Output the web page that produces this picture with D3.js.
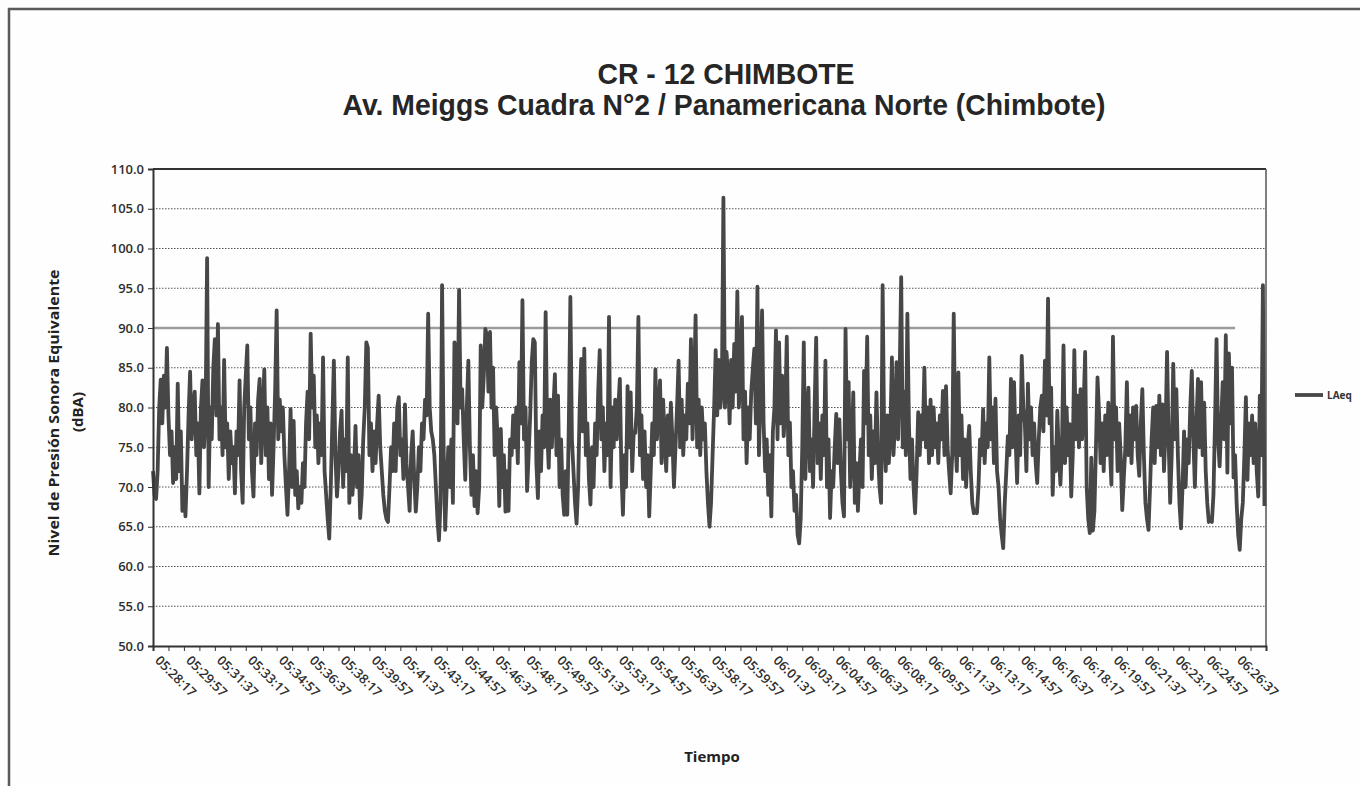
<!DOCTYPE html>
<html lang="es">
<head>
<meta charset="UTF-8">
<title>CR - 12 CHIMBOTE</title>
<style>
  body { margin: 0; background: #fdfdfd; }
  svg { display: block; }
  .tick text { font-family: "Open Sans", sans-serif; font-weight: 600; fill: #2e2e2e; }
  .grid line { stroke: #555; stroke-width: 1; stroke-dasharray: 1.5 1.5; }
  .lineLAeq { fill: none; stroke: #474747; stroke-width: 3.8px; stroke-linejoin: round; }
</style>
</head>
<body>
<script src="https://d3js.org/d3.v7.min.js"></script>
<script>
// series: LAeq sampled every 5 s, starting at 05:28:17 (one row per minute)
const stepSeconds = 5;
const laeq = [
  72, 69, 68.5, 72, 80, 83.5, 78, 84, 80, 87.5, 79, 74,
  77, 70.5, 75, 71, 83, 72, 77, 67, 70, 66.3, 72, 79,
  84.5, 76, 80, 82, 74, 78, 69.2, 80, 83.4, 75, 79, 98.8,
  70, 80, 76, 85, 88.6, 79, 90.5, 76, 80, 74, 86, 75,
  78, 71, 77, 73, 75, 69.2, 77, 74, 83.4, 72, 68, 80,
  84, 87.8, 76, 80, 72, 68.8, 78, 74, 81, 83.6, 73, 79,
  84.8, 74, 80, 71, 78, 69, 75, 82, 92.2, 76, 81, 77,
  80, 74, 70, 66.5, 72, 79.8, 70, 78.3, 69, 72, 67.3, 70,
  68, 73, 70, 78, 82, 76, 89.3, 80, 84, 75, 79, 73,
  78, 74, 86.3, 72, 69, 66, 63.5, 70, 78, 85.9, 74, 68.8,
  72, 77, 79.6, 70, 76, 72, 86.3, 68, 74, 69, 72, 77.7,
  70, 74, 66.1, 69, 76, 80, 88.2, 87.5, 74, 78, 72, 77,
  73, 78, 81.5, 75, 72, 69, 67, 66, 65.6, 70, 75, 72,
  78, 72, 80, 81.3, 74, 76, 71, 80.4, 73, 70, 67, 74,
  77, 71, 66.9, 70, 75, 72, 78, 76, 81, 79, 91.8, 80,
  77, 76, 74, 70, 66, 63.3, 68, 95.4, 75, 64.6, 70, 75,
  70, 76, 68, 88.2, 87.4, 78, 94.8, 80, 82.3, 76, 70.9, 80,
  85.9, 75, 69, 74, 67.6, 72, 66.7, 70, 87.8, 80, 84, 89.9,
  89, 82, 89.5, 80, 85, 74, 80, 76, 67.6, 77.3, 70, 74,
  66.9, 72, 67, 76, 74, 79, 75, 80, 73, 85.7, 78, 93.5,
  76, 80, 69.5, 74, 79, 85.7, 88.6, 88.2, 73, 68.6, 77, 72,
  79, 75, 92, 77, 72.4, 81, 75, 80, 84.2, 74, 81.5, 70,
  76, 69, 66.5, 72, 66.5, 78, 93.9, 76, 72, 68, 65.4, 70,
  80, 86.1, 77, 87.4, 74, 78, 71, 67.8, 75, 70, 78, 74,
  82, 87.2, 76, 80, 72, 78, 74, 91.4, 70, 80, 75, 81,
  76, 80, 83.6, 72, 66.5, 74, 70, 82.7, 75, 81.9, 72, 77,
  76.8, 80, 91.4, 74, 79, 71, 77, 70, 74, 66.3, 72, 78,
  74, 84.8, 76, 80, 83.4, 73, 81, 76, 72, 79, 74, 80.6,
  76, 70, 75, 80, 85.9, 75, 81, 74, 79, 76, 83, 78,
  88.6, 76, 82, 91.6, 75, 81, 74, 80, 76, 78, 72, 68,
  65, 68, 74, 80, 87.2, 79, 86, 80, 82, 106.4, 80, 87,
  84, 78, 86, 80, 88, 82, 94.6, 80, 84, 91.4, 76, 82,
  73, 80, 76, 82, 84.8, 87.4, 78, 95.2, 74, 82, 92.2, 78,
  72, 76, 69, 74, 66.3, 77, 80, 89.7, 76, 88.2, 78, 84,
  76.4, 80, 88.9, 74, 78.1, 70, 72, 67, 69, 64, 62.9, 66,
  75, 88.2, 71, 78, 82.5, 72, 76, 70, 80, 88.8, 73, 78,
  71, 79, 74, 85.9, 70, 76, 66.1, 72, 70, 75, 79.2, 73,
  78.5, 72, 68, 66.3, 89.9, 76, 83.2, 70, 74, 81.9, 68, 73,
  67, 72, 76, 70, 84.6, 78, 88.9, 74, 79, 71, 77, 73,
  81.9, 74, 70, 68, 95.4, 76, 72, 79, 73, 77, 86.3, 74,
  78, 85.7, 76, 84, 96.4, 75, 82, 74, 91.8, 78, 71, 76,
  70, 66.7, 72, 79.4, 74, 79, 76, 85, 75, 80, 73, 81,
  74, 80, 75, 78, 73, 79, 76, 82.1, 74, 82.7, 75, 72,
  69.2, 74, 91.8, 76, 72, 84.4, 74, 79, 71, 76, 70, 75,
  77.7, 72, 68, 66.7, 67, 66.7, 70, 76, 74, 79.8, 73, 78,
  75, 86.3, 76, 80, 73, 81.1, 72, 70, 66, 64, 62.3, 68,
  72, 76.4, 74, 83.6, 75, 83.2, 76, 70.5, 79, 74, 86.5, 80,
  78, 72, 83, 76, 80, 74, 78, 73, 70.5, 76, 80, 81.5,
  77, 85.9, 79, 93.7, 78, 82.5, 69, 75, 72, 79.6, 74, 70.3,
  75, 87.8, 73, 80, 74, 77.9, 68.8, 74, 87.2, 76, 81.5, 75,
  82.3, 76, 80, 87, 70, 66, 64.2, 73.7, 64.5, 67, 75, 83.8,
  79.4, 73, 78, 72, 79, 74, 80.6, 75, 70.3, 88.9, 76, 80,
  72, 78, 74, 67.1, 71, 75, 83.2, 74, 79, 73, 80, 76,
  80.2, 74, 71.4, 78, 82.3, 74, 68, 66, 64.6, 70, 76, 80,
  73, 80.2, 75, 81.5, 74, 80.4, 72, 77, 87, 76, 68, 74,
  85.5, 76, 82.3, 74, 68, 64.8, 70, 77, 70, 76, 73, 80,
  84.6, 76, 70, 78, 83.6, 75, 83.2, 74, 80.6, 72, 68, 65.6,
  66, 65.6, 69, 78, 88.6, 76, 72.6, 78, 83.2, 76, 89.1, 71.8,
  86.8, 78, 85, 71.2, 74, 68, 64, 62.1, 66, 68, 74, 81.3,
  70.9, 78, 74, 79, 73, 78, 72, 68.8, 81.5, 74, 95.4, 67.6
];

// category labels shown on the time axis (one every 100 s)
const timeLabels = [
  "05:28:17", "05:29:57", "05:31:37", "05:33:17", "05:34:57", "05:36:37",
  "05:38:17", "05:39:57", "05:41:37", "05:43:17", "05:44:57", "05:46:37",
  "05:48:17", "05:49:57", "05:51:37", "05:53:17", "05:54:57", "05:56:37",
  "05:58:17", "05:59:57", "06:01:37", "06:03:17", "06:04:57", "06:06:37",
  "06:08:17", "06:09:57", "06:11:37", "06:13:17", "06:14:57", "06:16:37",
  "06:18:17", "06:19:57", "06:21:37", "06:23:17", "06:24:57", "06:26:37"
];
const labelEvery = 100;   // seconds between labels
const tickEvery = 50;     // seconds between tick marks
const totalSeconds = 3600;

const yTicks = [50, 55, 60, 65, 70, 75, 80, 85, 90, 95, 100, 105, 110];
const refLevel = 90;      // light solid line in the scan
const refEndSecond = 3500;

const width = 1360, height = 786;
const margin = { top: 169, right: 94, bottom: 140, left: 153 };

const svg = d3.select('body').append('svg')
  .attr('width', width)
  .attr('height', height);

// outer chart frame (scan shows top + left edge)
svg.append('rect')
  .attr('x', 9).attr('y', 9)
  .attr('width', width + 20).attr('height', height + 20)
  .attr('fill', '#fefefe')
  .attr('stroke', '#5a5a5a')
  .attr('stroke-width', 2.5);

const x = d3.scaleLinear()
  .domain([0, totalSeconds])
  .range([margin.left, width - margin.right]);

const y = d3.scaleLinear()
  .domain([50, 110])
  .range([height - margin.bottom, margin.top]);

// titles
const title = svg.append('g')
  .attr('font-family', '"Liberation Sans Narrow", "Liberation Sans", Arial, sans-serif')
  .attr('font-weight', 'bold')
  .attr('font-size', 30)
  .attr('fill', '#262626')
  .attr('text-anchor', 'middle');
title.append('text')
  .attr('x', 726).attr('y', 84)
  .attr('textLength', 257).attr('lengthAdjust', 'spacingAndGlyphs')
  .text('CR - 12 CHIMBOTE');
title.append('text')
  .attr('x', 724).attr('y', 115)
  .attr('textLength', 763).attr('lengthAdjust', 'spacingAndGlyphs')
  .text('Av. Meiggs Cuadra N°2 / Panamericana Norte (Chimbote)');

// grid lines
svg.append('g')
  .attr('class', 'grid')
  .selectAll('line')
  .data(yTicks.filter(d => d > 50 && d < 110 && d !== refLevel))
  .join('line')
  .attr('x1', x(0)).attr('x2', x(totalSeconds))
  .attr('y1', d => y(d)).attr('y2', d => y(d));

svg.append('line')
  .attr('x1', x(0)).attr('x2', x(refEndSecond))
  .attr('y1', y(refLevel)).attr('y2', y(refLevel))
  .attr('stroke', '#9c9c9c')
  .attr('stroke-width', 2.5);

// plot border top / right
svg.append('line')
  .attr('x1', x(0)).attr('x2', x(totalSeconds))
  .attr('y1', y(110)).attr('y2', y(110))
  .attr('stroke', '#333').attr('stroke-width', 2);
svg.append('line')
  .attr('x1', x(totalSeconds)).attr('x2', x(totalSeconds))
  .attr('y1', y(110)).attr('y2', y(50))
  .attr('stroke', '#555').attr('stroke-width', 1.5);

// the series
const valueline = d3.line()
  .x((d, i) => x(i * stepSeconds))
  .y(d => y(d));

svg.append('path')
  .datum(laeq)
  .attr('class', 'lineLAeq')
  .attr('d', valueline);

// y axis
const yAxis = svg.append('g')
  .attr('transform', `translate(${margin.left},0)`)
  .call(d3.axisLeft(y).tickValues(yTicks).tickFormat(d3.format('.1f')).tickSize(5).tickPadding(4));
yAxis.select('.domain').attr('stroke', '#333').attr('stroke-width', 2);
yAxis.selectAll('.tick line').attr('stroke', '#333');
yAxis.selectAll('.tick text').attr('font-size', 13);

// x axis: tick every 50 s, label every 100 s
const xAxis = svg.append('g')
  .attr('transform', `translate(0,${y(50)})`)
  .call(d3.axisBottom(x)
    .tickValues(d3.range(0, totalSeconds + 1, tickEvery))
    .tickSize(5)
    .tickFormat(d => (d % labelEvery === 0 && timeLabels[d / labelEvery]) || ''));
xAxis.select('.domain').attr('stroke', '#333').attr('stroke-width', 2);
xAxis.selectAll('.tick line').attr('stroke', '#333');
xAxis.selectAll('.tick text')
  .attr('font-size', 13)
  .attr('text-anchor', 'start')
  .attr('x', 0).attr('y', 0).attr('dy', '0.35em')
  .attr('transform', 'translate(4,12) rotate(45)');

// axis titles
const axisTitle = (sel) => sel
  .attr('text-anchor', 'middle')
  .attr('font-family', '"Open Sans", sans-serif')
  .attr('font-weight', 'bold')
  .attr('fill', '#222');

svg.append('text')
  .call(axisTitle)
  .attr('transform', 'translate(59,413) rotate(-90)')
  .attr('font-size', 15)
  .attr('textLength', 287).attr('lengthAdjust', 'spacingAndGlyphs')
  .text('Nivel de Presión Sonora Equivalente');
svg.append('text')
  .call(axisTitle)
  .attr('transform', 'translate(83,412) rotate(-90)')
  .attr('font-size', 15)
  .text('(dBA)');

svg.append('text')
  .call(axisTitle)
  .attr('x', 712).attr('y', 762)
  .attr('font-size', 15)
  .text('Tiempo');

// legend
const legend = svg.append('g').attr('transform', 'translate(1295,395)');
legend.append('line')
  .attr('x1', 0).attr('x2', 28)
  .attr('stroke', '#474747').attr('stroke-width', 3.8);
legend.append('text')
  .attr('x', 32).attr('dy', '0.35em')
  .attr('font-family', '"Open Sans", sans-serif')
  .attr('font-weight', 'bold')
  .attr('font-size', 10)
  .attr('fill', '#333')
  .text('LAeq');
</script>
</body>
</html>
